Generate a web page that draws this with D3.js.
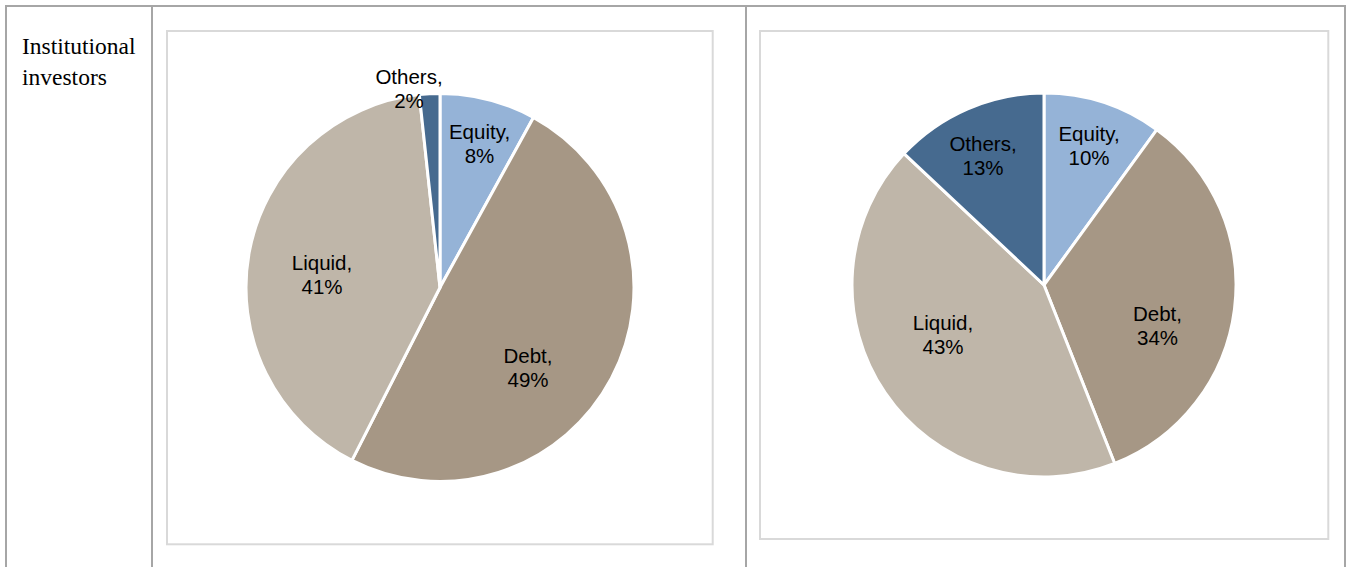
<!DOCTYPE html>
<html>
<head>
<meta charset="utf-8">
<script src="https://cdn.jsdelivr.net/npm/d3@7"></script>
<style>
  html, body { margin: 0; padding: 0; background: #ffffff; }
  svg { display: block; }
</style>
</head>
<body>
<svg id="chart" width="1351" height="567"></svg>
<script>
// ---- Data ----
const rowLabel = ["Institutional", "investors"];
const categories = ["Equity", "Debt", "Liquid", "Others"];
const seriesLeft = [8.0, 49.5, 40.8, 1.7];
const seriesRight = [10, 34, 43, 13];
const labelsLeft = ["8%", "49%", "41%", "2%"];
const labelsRight = ["10%", "34%", "43%", "13%"];

// ---- Styles / layout ----
const colors = ["#95B3D7", "#A69785", "#BFB6A9", "#466A8F"];
const W = 1351, H = 567;
const svg = d3.select("#chart");

// Table grid
const gridColor = "#a6a6a6";
const grid = svg.append("g").attr("stroke", gridColor).attr("stroke-width", 2).attr("fill", "none");
grid.append("line").attr("x1", 5).attr("x2", 1346).attr("y1", 6).attr("y2", 6);
[6, 152, 746, 1345].forEach(x => {
  grid.append("line").attr("x1", x).attr("x2", x).attr("y1", 5).attr("y2", H);
});

// Row label
const rl = svg.append("text")
  .attr("font-family", "'Liberation Serif', 'Times New Roman', serif")
  .attr("font-size", 23.5)
  .attr("fill", "#000");
rowLabel.forEach((t, i) => {
  rl.append("tspan").attr("x", 22).attr("y", 54 + i * 31).text(t);
});

// Charts
const charts = [
  { values: seriesLeft, pct: labelsLeft, box: [167, 31, 712.7, 544.3], cx: 440, cy: 287.5, r: 194,
    labelPos: [[39.5, -143.8], [88, 80], [-118, -13], [-31, -198.5]] },
  { values: seriesRight, pct: labelsRight, box: [760, 31, 1328.3, 539], cx: 1044, cy: 285, r: 192,
    labelPos: [[45, -139], [113.5, 41], [-101, 50], [-61, -129]] }
];

charts.forEach(c => {
  const [x0, y0, x1, y1] = c.box;
  svg.append("rect")
    .attr("x", x0).attr("y", y0).attr("width", x1 - x0).attr("height", y1 - y0)
    .attr("fill", "#fff").attr("stroke", "#d9d9d9").attr("stroke-width", 2);

  const pie = d3.pie().sort(null).value(d => d)(c.values);
  const arc = d3.arc().innerRadius(0).outerRadius(c.r);
  const g = svg.append("g").attr("transform", `translate(${c.cx},${c.cy})`);
  g.selectAll("path").data(pie).join("path")
    .attr("d", arc)
    .attr("fill", (d, i) => colors[i])
    .attr("stroke", "#fff")
    .attr("stroke-width", 3)
    .attr("stroke-linejoin", "round");

  const lab = g.selectAll("text.lbl").data(pie).join("text")
    .attr("class", "lbl")
    .attr("text-anchor", "middle")
    .attr("font-family", "'Liberation Sans', Arial, sans-serif")
    .attr("font-size", 20.5)
    .attr("fill", "#000");
  lab.each(function(d, i) {
    const [dx, dy] = c.labelPos[i];
    const t = d3.select(this);
    const base = dy - 4.75;
    t.append("tspan").attr("x", dx).attr("y", base).text(categories[i] + ",");
    t.append("tspan").attr("x", dx).attr("y", base + 24).text(c.pct[i]);
  });
});
</script>
</body>
</html>
